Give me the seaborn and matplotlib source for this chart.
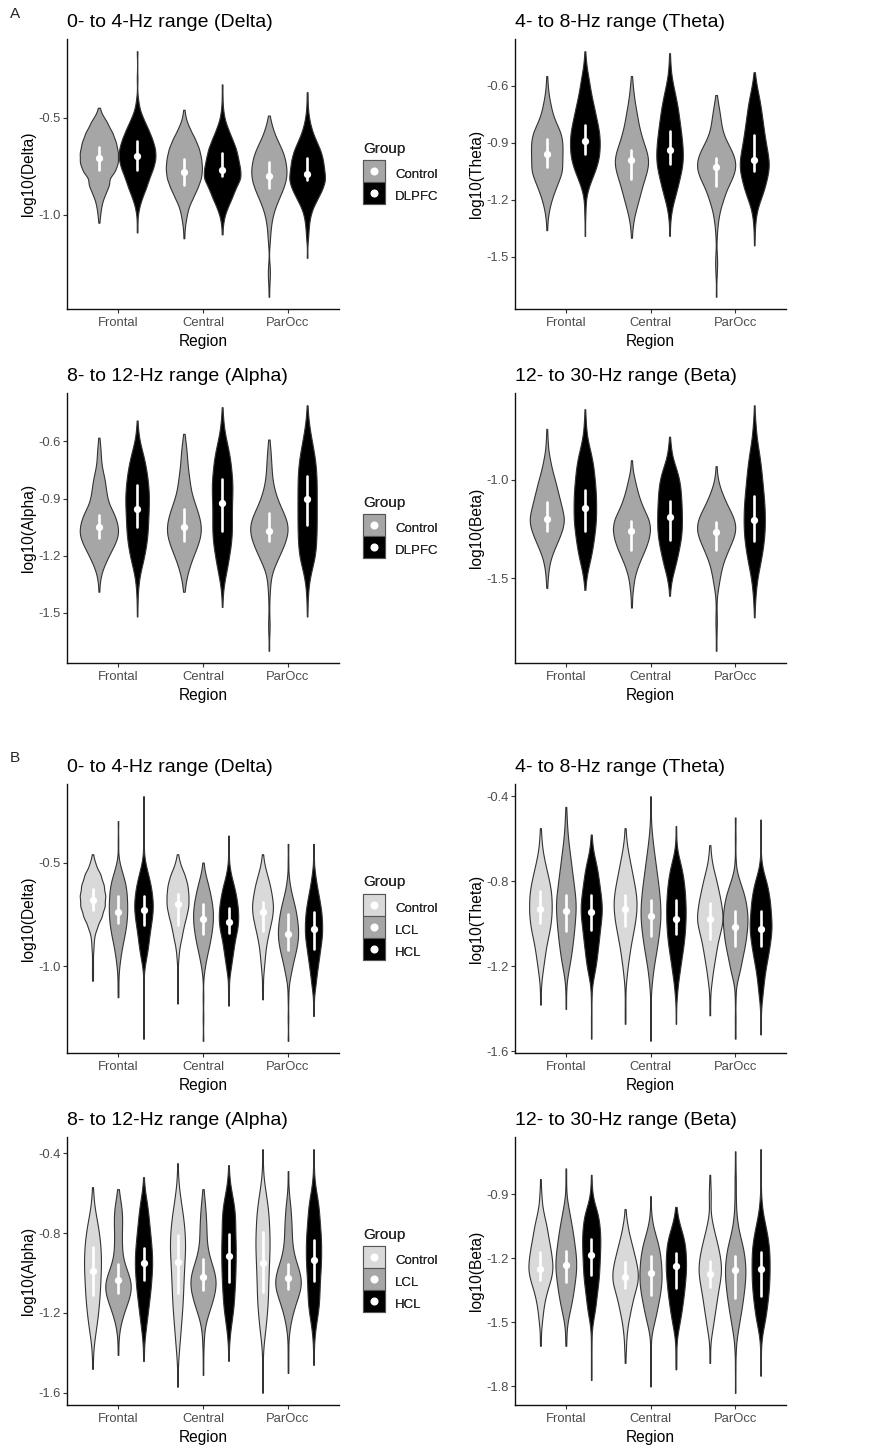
import numpy as np
import pandas as pd
import seaborn as sns
import matplotlib
matplotlib.use("Agg")
import matplotlib.pyplot as plt
from matplotlib.lines import Line2D
from matplotlib.ticker import MultipleLocator, FormatStrFormatter

regions = ["Frontal", "Central", "ParOcc"]
bands = ["Delta", "Theta", "Alpha", "Beta"]
titles = ["0- to 4-Hz range (Delta)", "4- to 8-Hz range (Theta)",
          "8- to 12-Hz range (Alpha)", "12- to 30-Hz range (Beta)"]

# Each violin is read off the picture as levels (log10 power) and relative widths
# at those levels; *_bar holds the white bar ends and the dot [low, dot, high].

# ---------------- Panel A: Control vs DLPFC ----------------
a_delta_control_y = [[-0.45, -0.49, -0.53, -0.58, -0.63, -0.68, -0.73, -0.78, -0.84, -0.89, -0.94, -0.99, -1.04],
                     [-0.46, -0.51, -0.56, -0.61, -0.66, -0.71, -0.76, -0.81, -0.86, -0.91, -0.96, -1.01, -1.06, -1.12],
                     [-0.49, -0.54, -0.59, -0.64, -0.69, -0.74, -0.79, -0.84, -0.89, -0.94, -0.99, -1.04, -1.09, -1.14, -1.27, -1.31, -1.35, -1.42]]
a_delta_control_n = [[1, 5, 17, 28, 35, 39, 39, 33, 23, 13, 6, 3, 1],
                     [1, 4, 12, 22, 30, 34, 36, 34, 27, 18, 9, 5, 2, 1],
                     [1, 6, 12, 22, 31, 35, 37, 33, 25, 16, 9, 5, 3, 2, 2, 2, 1, 1]]
a_delta_control_bar = [[-0.77, -0.71, -0.65], [-0.845, -0.78, -0.715], [-0.86, -0.80, -0.73]]

a_delta_dlpfc_y = [[-0.16, -0.30, -0.41, -0.46, -0.51, -0.56, -0.61, -0.66, -0.71, -0.76, -0.81, -0.86, -0.91, -0.96, -1.02, -1.09],
                   [-0.33, -0.40, -0.46, -0.51, -0.56, -0.61, -0.66, -0.71, -0.76, -0.81, -0.86, -0.91, -0.96, -1.01, -1.05, -1.10],
                   [-0.37, -0.42, -0.47, -0.52, -0.57, -0.62, -0.67, -0.72, -0.77, -0.82, -0.87, -0.92, -0.97, -1.02, -1.07, -1.12, -1.22]]
a_delta_dlpfc_n = [[1, 1, 2, 5, 13, 22, 30, 36, 37, 32, 24, 18, 10, 4, 1, 1],
                   [1, 1, 2, 5, 12, 20, 28, 32, 36, 38, 27, 20, 11, 4, 1, 1],
                   [1, 1, 2, 5, 10, 18, 27, 32, 34, 37, 30, 20, 10, 5, 3, 2, 1]]
a_delta_dlpfc_bar = [[-0.77, -0.70, -0.62], [-0.80, -0.77, -0.68], [-0.82, -0.79, -0.71]]

a_theta_control_y = [[-0.55, -0.60, -0.65, -0.70, -0.75, -0.80, -0.85, -0.90, -0.95, -1.00, -1.05, -1.10, -1.15, -1.20, -1.25, -1.30, -1.36],
                     [-0.55, -0.60, -0.65, -0.70, -0.75, -0.80, -0.85, -0.90, -0.95, -1.00, -1.05, -1.10, -1.15, -1.20, -1.25, -1.30, -1.35, -1.40],
                     [-0.65, -0.70, -0.75, -0.80, -0.85, -0.90, -0.95, -1.00, -1.05, -1.10, -1.15, -1.20, -1.25, -1.30, -1.35, -1.40, -1.50, -1.55, -1.60, -1.71]]
a_theta_control_n = [[1, 2, 4, 8, 12, 20, 30, 33, 33, 32, 33, 25, 17, 10, 5, 2, 1],
                     [1, 3, 5, 8, 12, 15, 20, 26, 34, 38, 34, 27, 21, 16, 10, 5, 2, 1],
                     [1, 4, 7, 9, 12, 20, 30, 36, 35, 27, 18, 13, 7, 4, 2, 1, 2, 2, 1, 1]]
a_theta_control_bar = [[-1.03, -0.96, -0.88], [-1.09, -0.99, -0.94], [-1.13, -1.03, -0.98]]

a_theta_dlpfc_y = [[-0.42, -0.47, -0.52, -0.57, -0.62, -0.67, -0.72, -0.77, -0.82, -0.87, -0.92, -0.97, -1.02, -1.07, -1.12, -1.17, -1.24, -1.30, -1.39],
                   [-0.43, -0.48, -0.53, -0.58, -0.63, -0.68, -0.73, -0.78, -0.83, -0.88, -0.93, -0.98, -1.03, -1.08, -1.13, -1.18, -1.23, -1.28, -1.33, -1.39],
                   [-0.53, -0.58, -0.63, -0.68, -0.73, -0.78, -0.83, -0.88, -0.93, -0.98, -1.03, -1.08, -1.13, -1.18, -1.23, -1.28, -1.33, -1.38, -1.44]]
a_theta_dlpfc_n = [[1, 2, 5, 9, 12, 16, 21, 25, 30, 33, 33, 32, 27, 19, 10, 4, 2, 1, 1],
                   [1, 2, 3, 7, 12, 17, 21, 24, 27, 30, 32, 33, 31, 25, 20, 14, 7, 3, 1, 1],
                   [1, 4, 8, 13, 16, 19, 22, 25, 29, 33, 35, 30, 25, 18, 9, 4, 2, 1, 1]]
a_theta_dlpfc_bar = [[-0.96, -0.89, -0.81], [-1.01, -0.94, -0.84], [-1.05, -0.99, -0.86]]

a_alpha_control_y = [[-0.58, -0.63, -0.68, -0.73, -0.78, -0.83, -0.88, -0.93, -0.98, -1.03, -1.08, -1.13, -1.18, -1.23, -1.28, -1.33, -1.39],
                     [-0.56, -0.61, -0.66, -0.71, -0.76, -0.81, -0.86, -0.91, -0.96, -1.01, -1.06, -1.11, -1.16, -1.21, -1.26, -1.31, -1.36, -1.39],
                     [-0.59, -0.64, -0.69, -0.74, -0.79, -0.84, -0.89, -0.94, -0.99, -1.04, -1.09, -1.14, -1.19, -1.24, -1.29, -1.34, -1.40, -1.48, -1.56, -1.60, -1.70]]
a_alpha_control_n = [[1, 3, 4, 5, 10, 13, 15, 19, 30, 36, 39, 33, 23, 14, 6, 2, 1],
                     [1, 4, 6, 7, 9, 12, 14, 20, 27, 33, 36, 33, 26, 18, 11, 6, 2, 1],
                     [1, 3, 4, 5, 6, 9, 14, 21, 30, 36, 35, 29, 21, 13, 5, 3, 2, 1, 2, 1, 1]]
a_alpha_control_bar = [[-1.11, -1.05, -0.985], [-1.125, -1.05, -0.955], [-1.125, -1.07, -0.975]]

a_alpha_dlpfc_y = [[-0.49, -0.54, -0.59, -0.64, -0.69, -0.74, -0.79, -0.84, -0.89, -0.94, -0.99, -1.04, -1.09, -1.14, -1.19, -1.24, -1.29, -1.34, -1.40, -1.46, -1.52],
                   [-0.42, -0.47, -0.52, -0.57, -0.62, -0.67, -0.72, -0.77, -0.82, -0.87, -0.92, -0.97, -1.02, -1.07, -1.12, -1.17, -1.22, -1.27, -1.32, -1.37, -1.42, -1.47],
                   [-0.41, -0.46, -0.51, -0.56, -0.61, -0.66, -0.71, -0.76, -0.81, -0.86, -0.91, -0.96, -1.01, -1.06, -1.11, -1.16, -1.21, -1.26, -1.31, -1.36, -1.42, -1.47, -1.52]]
a_alpha_dlpfc_n = [[1, 2, 5, 11, 18, 22, 26, 28, 30, 29, 28, 27, 26, 23, 19, 14, 7, 4, 2, 1, 1],
                   [1, 2, 4, 8, 14, 20, 23, 25, 28, 27, 26, 25, 26, 26, 25, 21, 17, 13, 7, 3, 1, 1],
                   [1, 2, 5, 9, 14, 19, 23, 25, 26, 26, 26, 26, 26, 26, 25, 24, 22, 14, 7, 4, 2, 1, 1]]
a_alpha_dlpfc_bar = [[-1.05, -0.955, -0.83], [-1.07, -0.925, -0.80], [-1.04, -0.905, -0.78]]

a_beta_control_y = [[-0.74, -0.80, -0.85, -0.90, -0.95, -1.00, -1.05, -1.10, -1.15, -1.20, -1.25, -1.30, -1.35, -1.40, -1.45, -1.50, -1.55],
                    [-0.90, -0.95, -1.00, -1.05, -1.10, -1.15, -1.20, -1.25, -1.30, -1.35, -1.40, -1.45, -1.50, -1.55, -1.60, -1.65],
                    [-0.93, -0.98, -1.03, -1.08, -1.13, -1.18, -1.23, -1.28, -1.33, -1.38, -1.43, -1.48, -1.53, -1.58, -1.65, -1.72, -1.79, -1.87]]
a_beta_control_n = [[1, 2, 3, 7, 11, 17, 22, 27, 32, 37, 33, 25, 16, 8, 4, 2, 1],
                    [1, 2, 6, 10, 15, 22, 31, 34, 31, 25, 17, 10, 5, 3, 1, 1],
                    [1, 2, 6, 13, 21, 31, 37, 35, 27, 19, 12, 8, 5, 2, 1, 2, 1, 1]]
a_beta_control_bar = [[-1.26, -1.20, -1.115], [-1.355, -1.26, -1.21], [-1.355, -1.265, -1.215]]

a_beta_dlpfc_y = [[-0.64, -0.70, -0.75, -0.80, -0.85, -0.90, -0.95, -1.00, -1.05, -1.10, -1.15, -1.20, -1.25, -1.30, -1.35, -1.40, -1.45, -1.50, -1.56],
                  [-0.78, -0.83, -0.88, -0.93, -0.98, -1.03, -1.08, -1.13, -1.18, -1.23, -1.28, -1.33, -1.38, -1.43, -1.48, -1.53, -1.59],
                  [-0.62, -0.68, -0.73, -0.78, -0.83, -0.88, -0.93, -0.98, -1.03, -1.08, -1.13, -1.18, -1.23, -1.28, -1.33, -1.38, -1.43, -1.48, -1.53, -1.58, -1.64, -1.70]]
a_beta_dlpfc_n = [[1, 2, 3, 6, 12, 17, 20, 22, 24, 25, 25, 25, 23, 20, 17, 13, 7, 3, 1],
                  [1, 3, 6, 14, 22, 26, 28, 29, 30, 30, 29, 25, 20, 15, 8, 3, 1],
                  [1, 2, 4, 6, 10, 15, 18, 21, 23, 26, 28, 29, 29, 28, 25, 21, 16, 10, 6, 4, 2, 1]]
a_beta_dlpfc_bar = [[-1.26, -1.145, -1.05], [-1.305, -1.19, -1.105], [-1.31, -1.205, -1.08]]

# ---------------- Panel B: Control vs LCL vs HCL ----------------
b_delta_control_y = [[-0.46, -0.51, -0.56, -0.61, -0.66, -0.71, -0.76, -0.81, -0.86, -0.91, -0.97, -1.02, -1.07],
                     [-0.46, -0.51, -0.56, -0.61, -0.66, -0.71, -0.76, -0.81, -0.86, -0.91, -0.96, -1.03, -1.10, -1.18],
                     [-0.46, -0.51, -0.56, -0.61, -0.66, -0.71, -0.76, -0.81, -0.86, -0.91, -0.96, -1.01, -1.06, -1.11, -1.16]]
b_delta_control_n = [[1, 6, 16, 22, 25, 24, 18, 9, 3, 2, 1, 1, 1],
                     [1, 6, 16, 22, 24, 24, 19, 13, 9, 4, 2, 1, 1, 1],
                     [1, 4, 10, 16, 20, 23, 21, 16, 11, 7, 5, 3, 1, 1, 1]]
b_delta_control_bar = [[-0.73, -0.68, -0.63], [-0.80, -0.70, -0.65], [-0.83, -0.74, -0.69]]

b_delta_lcl_y = [[-0.30, -0.40, -0.50, -0.55, -0.60, -0.65, -0.70, -0.75, -0.80, -0.85, -0.90, -0.95, -1.00, -1.05, -1.10, -1.15],
                 [-0.50, -0.55, -0.60, -0.65, -0.70, -0.75, -0.80, -0.85, -0.90, -0.95, -1.00, -1.05, -1.15, -1.25, -1.36],
                 [-0.41, -0.50, -0.58, -0.63, -0.68, -0.73, -0.78, -0.83, -0.88, -0.93, -0.98, -1.03, -1.08, -1.15, -1.25, -1.36]]
b_delta_lcl_n = [[1, 1, 3, 10, 17, 20, 21, 21, 19, 15, 10, 6, 3, 1, 1, 1],
                 [1, 4, 10, 15, 19, 21, 20, 17, 13, 8, 4, 1, 1, 1, 1],
                 [1, 1, 2, 5, 10, 15, 18, 20, 19, 15, 10, 6, 2, 1, 1, 1]]
b_delta_lcl_bar = [[-0.79, -0.74, -0.66], [-0.845, -0.77, -0.70], [-0.92, -0.845, -0.75]]

b_delta_hcl_y = [[-0.18, -0.30, -0.42, -0.50, -0.55, -0.60, -0.65, -0.70, -0.75, -0.80, -0.85, -0.90, -0.95, -1.00, -1.10, -1.22, -1.35],
                 [-0.37, -0.45, -0.52, -0.57, -0.62, -0.67, -0.72, -0.77, -0.82, -0.87, -0.92, -0.97, -1.02, -1.08, -1.13, -1.19],
                 [-0.41, -0.48, -0.55, -0.60, -0.65, -0.70, -0.75, -0.80, -0.85, -0.90, -0.95, -1.00, -1.05, -1.10, -1.17, -1.24]]
b_delta_hcl_n = [[1, 1, 1, 3, 8, 13, 16, 18, 17, 14, 11, 9, 6, 2, 1, 1, 1],
                 [1, 1, 2, 6, 12, 16, 19, 20, 18, 13, 10, 7, 4, 1, 1, 1],
                 [1, 1, 3, 6, 10, 14, 17, 18, 18, 15, 12, 9, 6, 4, 1, 1]]
b_delta_hcl_bar = [[-0.80, -0.73, -0.66], [-0.84, -0.785, -0.72], [-0.915, -0.82, -0.74]]

b_theta_control_y = [[-0.55, -0.60, -0.65, -0.70, -0.75, -0.80, -0.85, -0.90, -0.95, -1.00, -1.05, -1.10, -1.15, -1.20, -1.25, -1.31, -1.38],
                     [-0.55, -0.60, -0.65, -0.70, -0.75, -0.80, -0.85, -0.90, -0.95, -1.00, -1.05, -1.10, -1.15, -1.20, -1.25, -1.32, -1.40, -1.47],
                     [-0.63, -0.68, -0.73, -0.78, -0.83, -0.88, -0.93, -0.98, -1.03, -1.08, -1.13, -1.18, -1.23, -1.28, -1.35, -1.43]]
b_theta_control_n = [[1, 2, 4, 8, 13, 18, 22, 23, 23, 21, 17, 12, 9, 6, 3, 1, 1],
                     [1, 2, 5, 9, 13, 17, 21, 23, 22, 19, 15, 11, 8, 5, 3, 1, 1, 1],
                     [1, 2, 5, 10, 14, 18, 21, 23, 19, 14, 11, 8, 5, 3, 1, 1]]
b_theta_control_bar = [[-0.995, -0.93, -0.845], [-1.01, -0.93, -0.865], [-1.07, -0.975, -0.90]]

b_theta_lcl_y = [[-0.45, -0.50, -0.55, -0.60, -0.65, -0.70, -0.75, -0.80, -0.85, -0.90, -0.95, -1.00, -1.05, -1.10, -1.15, -1.20, -1.25, -1.32, -1.40],
                 [-0.40, -0.48, -0.55, -0.60, -0.65, -0.70, -0.75, -0.80, -0.85, -0.90, -0.95, -1.00, -1.05, -1.10, -1.15, -1.20, -1.25, -1.30, -1.40, -1.55],
                 [-0.50, -0.60, -0.70, -0.77, -0.82, -0.87, -0.92, -0.97, -1.02, -1.07, -1.12, -1.17, -1.22, -1.27, -1.35, -1.45, -1.54]]
b_theta_lcl_n = [[1, 2, 3, 5, 8, 11, 14, 17, 20, 23, 22, 20, 18, 15, 12, 8, 3, 1, 1],
                 [1, 1, 2, 4, 7, 10, 13, 16, 19, 21, 22, 21, 18, 15, 11, 7, 4, 2, 1, 1],
                 [1, 1, 1, 4, 10, 16, 19, 21, 20, 18, 15, 11, 8, 3, 1, 1, 1]]
b_theta_lcl_bar = [[-1.035, -0.94, -0.865], [-1.055, -0.965, -0.89], [-1.105, -1.015, -0.94]]

b_theta_hcl_y = [[-0.58, -0.63, -0.68, -0.73, -0.78, -0.83, -0.88, -0.93, -0.98, -1.03, -1.08, -1.13, -1.18, -1.23, -1.28, -1.35, -1.45, -1.54],
                 [-0.54, -0.61, -0.67, -0.72, -0.77, -0.82, -0.87, -0.92, -0.97, -1.02, -1.07, -1.12, -1.17, -1.22, -1.27, -1.32, -1.38, -1.47],
                 [-0.51, -0.60, -0.70, -0.75, -0.80, -0.85, -0.90, -0.95, -1.00, -1.05, -1.10, -1.15, -1.20, -1.25, -1.30, -1.35, -1.42, -1.52]]
b_theta_hcl_n = [[1, 2, 6, 12, 15, 18, 21, 23, 21, 18, 16, 13, 11, 7, 2, 1, 1, 1],
                 [1, 1, 4, 11, 16, 19, 21, 22, 22, 21, 19, 16, 12, 9, 5, 3, 1, 1],
                 [1, 1, 1, 4, 11, 15, 18, 19, 21, 20, 17, 14, 10, 7, 5, 3, 1, 1]]
b_theta_hcl_bar = [[-1.03, -0.945, -0.865], [-1.05, -0.975, -0.89], [-1.105, -1.025, -0.94]]

b_alpha_control_y = [[-0.57, -0.62, -0.67, -0.72, -0.77, -0.82, -0.87, -0.92, -0.97, -1.02, -1.07, -1.12, -1.17, -1.22, -1.27, -1.32, -1.37, -1.42, -1.48],
                     [-0.45, -0.50, -0.56, -0.61, -0.66, -0.71, -0.76, -0.81, -0.86, -0.91, -0.96, -1.01, -1.06, -1.11, -1.16, -1.21, -1.26, -1.31, -1.36, -1.41, -1.48, -1.57],
                     [-0.38, -0.45, -0.50, -0.55, -0.60, -0.65, -0.70, -0.75, -0.80, -0.85, -0.90, -0.95, -1.00, -1.05, -1.10, -1.15, -1.20, -1.25, -1.30, -1.35, -1.42, -1.50, -1.60]]
b_alpha_control_n = [[1, 2, 4, 8, 12, 15, 17, 18, 18, 17, 16, 15, 13, 11, 8, 5, 2, 1, 1],
                     [1, 1, 3, 6, 10, 14, 17, 19, 20, 19, 17, 16, 15, 14, 13, 11, 9, 7, 5, 3, 1, 1],
                     [1, 1, 1, 4, 8, 12, 15, 16, 17, 18, 17, 16, 15, 14, 14, 13, 11, 9, 6, 3, 1, 1, 1]]
b_alpha_control_bar = [[-1.11, -0.99, -0.87], [-1.10, -0.945, -0.81], [-1.095, -0.95, -0.795]]

b_alpha_lcl_y = [[-0.58, -0.63, -0.68, -0.73, -0.78, -0.83, -0.88, -0.93, -0.98, -1.03, -1.08, -1.13, -1.18, -1.23, -1.28, -1.34, -1.41],
                 [-0.58, -0.63, -0.68, -0.73, -0.78, -0.83, -0.88, -0.93, -0.98, -1.03, -1.08, -1.13, -1.18, -1.23, -1.28, -1.34, -1.42, -1.51],
                 [-0.49, -0.57, -0.63, -0.68, -0.73, -0.78, -0.83, -0.88, -0.93, -0.98, -1.03, -1.08, -1.13, -1.18, -1.23, -1.28, -1.35, -1.42, -1.50]]
b_alpha_lcl_n = [[1, 4, 7, 8, 7, 7, 7, 9, 15, 23, 25, 20, 13, 7, 3, 1, 1],
                 [1, 3, 5, 6, 7, 7, 9, 14, 21, 26, 25, 20, 14, 7, 3, 2, 1, 1],
                 [1, 1, 3, 5, 6, 7, 7, 9, 13, 20, 25, 24, 17, 11, 6, 3, 1, 1, 1]]
b_alpha_lcl_bar = [[-1.10, -1.035, -0.955], [-1.085, -1.02, -0.93], [-1.08, -1.025, -0.955]]

b_alpha_hcl_y = [[-0.52, -0.58, -0.63, -0.68, -0.73, -0.78, -0.83, -0.88, -0.93, -0.98, -1.03, -1.08, -1.13, -1.18, -1.23, -1.28, -1.33, -1.39, -1.44],
                 [-0.46, -0.52, -0.57, -0.62, -0.67, -0.72, -0.77, -0.82, -0.87, -0.92, -0.97, -1.02, -1.07, -1.12, -1.17, -1.22, -1.27, -1.32, -1.38, -1.44],
                 [-0.38, -0.45, -0.52, -0.58, -0.63, -0.68, -0.73, -0.78, -0.83, -0.88, -0.93, -0.98, -1.03, -1.08, -1.13, -1.18, -1.23, -1.28, -1.33, -1.40, -1.46]]
b_alpha_hcl_n = [[1, 2, 6, 9, 11, 13, 15, 17, 18, 18, 16, 15, 12, 10, 7, 5, 2, 1, 1],
                 [1, 2, 5, 11, 16, 18, 18, 18, 20, 19, 19, 18, 17, 15, 14, 10, 6, 3, 1, 1],
                 [1, 1, 2, 5, 10, 13, 14, 16, 18, 18, 18, 17, 15, 14, 14, 12, 8, 4, 2, 1, 1]]
b_alpha_hcl_bar = [[-1.035, -0.95, -0.875], [-1.045, -0.915, -0.805], [-1.04, -0.935, -0.835]]

b_beta_control_y = [[-0.83, -0.90, -0.95, -1.00, -1.05, -1.10, -1.15, -1.20, -1.25, -1.30, -1.35, -1.40, -1.45, -1.50, -1.56, -1.61],
                    [-0.97, -1.02, -1.06, -1.11, -1.16, -1.21, -1.26, -1.31, -1.36, -1.41, -1.46, -1.51, -1.56, -1.62, -1.69],
                    [-0.81, -0.88, -0.93, -1.00, -1.05, -1.10, -1.15, -1.20, -1.25, -1.30, -1.35, -1.40, -1.45, -1.50, -1.55, -1.62, -1.69]]
b_beta_control_n = [[1, 2, 3, 7, 12, 15, 19, 22, 24, 20, 13, 8, 5, 3, 1, 1],
                    [1, 2, 5, 10, 15, 20, 24, 24, 18, 13, 9, 5, 3, 2, 1],
                    [1, 2, 2, 2, 6, 11, 16, 20, 22, 20, 16, 13, 10, 7, 4, 1, 1]]
b_beta_control_bar = [[-1.30, -1.25, -1.17], [-1.34, -1.29, -1.22], [-1.335, -1.275, -1.215]]

b_beta_lcl_y = [[-0.78, -0.85, -0.92, -0.97, -1.02, -1.07, -1.12, -1.17, -1.22, -1.27, -1.32, -1.37, -1.42, -1.47, -1.52, -1.57, -1.61],
                [-0.91, -0.98, -1.03, -1.08, -1.13, -1.18, -1.23, -1.28, -1.33, -1.38, -1.43, -1.48, -1.53, -1.60, -1.70, -1.80],
                [-0.70, -0.78, -0.85, -0.93, -1.00, -1.05, -1.10, -1.15, -1.20, -1.25, -1.30, -1.35, -1.40, -1.45, -1.50, -1.55, -1.62, -1.72, -1.83]]
b_beta_lcl_n = [[1, 1, 2, 6, 10, 14, 17, 20, 22, 21, 18, 15, 11, 6, 2, 1, 1],
                [1, 1, 3, 8, 14, 18, 20, 21, 20, 17, 13, 9, 4, 1, 1, 1],
                [1, 1, 2, 2, 3, 5, 10, 16, 19, 21, 20, 18, 15, 12, 8, 5, 2, 1, 1]]
b_beta_lcl_bar = [[-1.31, -1.23, -1.165], [-1.37, -1.27, -1.19], [-1.385, -1.255, -1.19]]

b_beta_hcl_y = [[-0.81, -0.88, -0.94, -0.99, -1.04, -1.09, -1.14, -1.19, -1.24, -1.29, -1.34, -1.39, -1.44, -1.49, -1.55, -1.62, -1.70, -1.77],
                [-0.96, -1.01, -1.06, -1.11, -1.16, -1.21, -1.26, -1.31, -1.36, -1.41, -1.46, -1.51, -1.56, -1.62, -1.67, -1.72],
                [-0.69, -0.78, -0.86, -0.93, -0.98, -1.03, -1.08, -1.13, -1.18, -1.23, -1.28, -1.33, -1.38, -1.43, -1.48, -1.53, -1.59, -1.67, -1.75]]
b_beta_hcl_n = [[1, 2, 6, 15, 18, 20, 20, 19, 18, 17, 14, 11, 9, 4, 1, 1, 1, 1],
                [1, 4, 10, 17, 20, 21, 21, 19, 17, 14, 11, 7, 3, 1, 1, 1],
                [1, 1, 1, 2, 4, 9, 14, 18, 20, 20, 20, 19, 17, 14, 11, 6, 2, 1, 1]]
b_beta_hcl_bar = [[-1.28, -1.185, -1.11], [-1.34, -1.235, -1.175], [-1.375, -1.25, -1.17]]

# ---------------- styling ----------------
sns.set_theme(style="ticks")
plt.rcParams["font.family"] = ["Liberation Sans", "DejaVu Sans"]
plt.rcParams["axes.unicode_minus"] = False

colors_a = {"Control": "#a6a6a6", "DLPFC": "#000000"}
colors_b = {"Control": "#d9d9d9", "LCL": "#a6a6a6", "HCL": "#000000"}

W, H = 890, 1448
# panel boxes in pixels: left, top, right, bottom
panels = [
    ("Delta", (67, 39, 339, 309), 0.5, colors_a,
     [(a_delta_control_y, a_delta_control_n, a_delta_control_bar), (a_delta_dlpfc_y, a_delta_dlpfc_n, a_delta_dlpfc_bar)]),
    ("Theta", (515, 39, 786, 309), 0.3, colors_a,
     [(a_theta_control_y, a_theta_control_n, a_theta_control_bar), (a_theta_dlpfc_y, a_theta_dlpfc_n, a_theta_dlpfc_bar)]),
    ("Alpha", (67, 393, 339, 663), 0.3, colors_a,
     [(a_alpha_control_y, a_alpha_control_n, a_alpha_control_bar), (a_alpha_dlpfc_y, a_alpha_dlpfc_n, a_alpha_dlpfc_bar)]),
    ("Beta", (515, 393, 786, 663), 0.5, colors_a,
     [(a_beta_control_y, a_beta_control_n, a_beta_control_bar), (a_beta_dlpfc_y, a_beta_dlpfc_n, a_beta_dlpfc_bar)]),
    ("Delta", (67, 784, 339, 1053), 0.5, colors_b,
     [(b_delta_control_y, b_delta_control_n, b_delta_control_bar), (b_delta_lcl_y, b_delta_lcl_n, b_delta_lcl_bar),
      (b_delta_hcl_y, b_delta_hcl_n, b_delta_hcl_bar)]),
    ("Theta", (515, 784, 786, 1053), 0.4, colors_b,
     [(b_theta_control_y, b_theta_control_n, b_theta_control_bar), (b_theta_lcl_y, b_theta_lcl_n, b_theta_lcl_bar),
      (b_theta_hcl_y, b_theta_hcl_n, b_theta_hcl_bar)]),
    ("Alpha", (67, 1137, 339, 1405), 0.4, colors_b,
     [(b_alpha_control_y, b_alpha_control_n, b_alpha_control_bar), (b_alpha_lcl_y, b_alpha_lcl_n, b_alpha_lcl_bar),
      (b_alpha_hcl_y, b_alpha_hcl_n, b_alpha_hcl_bar)]),
    ("Beta", (515, 1137, 786, 1405), 0.3, colors_b,
     [(b_beta_control_y, b_beta_control_n, b_beta_control_bar), (b_beta_lcl_y, b_beta_lcl_n, b_beta_lcl_bar),
      (b_beta_hcl_y, b_beta_hcl_n, b_beta_hcl_bar)]),
]


def build(groups, parts):
    dens, bars = [], []
    for g, (ys, ns, bs) in zip(groups, parts):
        for region, y, n, b in zip(regions, ys, ns, bs):
            dens.append(pd.DataFrame({"Region": region, "Group": g, "value": np.repeat(y, n)}))
            bars.append(pd.DataFrame({"Region": region, "Group": g, "value": b}))
    return pd.concat(dens, ignore_index=True), pd.concat(bars, ignore_index=True)


fig = plt.figure(figsize=(W / 100, H / 100), dpi=100)

for band, (l, t, r, b), step, palette, parts in panels:
    ax = fig.add_axes([l / W, 1 - b / H, (r - l) / W, (b - t) / H])
    groups = list(palette)
    k = len(groups)
    dens, bars = build(groups, parts)

    sns.violinplot(data=dens, x="Region", y="value", hue="Group", order=regions, hue_order=groups,
                   palette=palette, saturation=1, width=0.9, gap=0, cut=0, bw_method=0.24,
                   gridsize=200, density_norm="area", common_norm=True, inner=None, linewidth=0.8,
                   linecolor="#333333", legend=False, ax=ax)
    sns.pointplot(data=bars, x="Region", y="value", hue="Group", order=regions, hue_order=groups,
                  palette={g: "white" for g in groups}, estimator="median", errorbar=("pi", 100),
                  dodge=0.9 * (k - 1) / k, linestyle="none", marker="o", linewidth=1.9,
                  markersize=3.8, err_kws={"linewidth": 1.9}, legend=False, ax=ax)

    lo = min(dens["value"].min(), bars["value"].min())
    hi = max(dens["value"].max(), bars["value"].max())
    pad = 0.05 * (hi - lo)
    ax.set_ylim(lo - pad, hi + pad)
    ax.set_xlim(-0.6, 2.6)
    ax.yaxis.set_major_locator(MultipleLocator(step))
    ax.yaxis.set_major_formatter(FormatStrFormatter("%.1f"))

    for side in ["top", "right"]:
        ax.spines[side].set_visible(False)
    for side in ["left", "bottom"]:
        ax.spines[side].set_linewidth(1.0)
        ax.spines[side].set_color("#111111")
    ax.tick_params(axis="both", length=2.9, width=0.8, color="#333333", labelsize=9.4,
                   labelcolor="#4d4d4d")
    ax.tick_params(axis="x", pad=2.6)
    ax.tick_params(axis="y", pad=1.5)
    ax.set_xlabel("Region", fontsize=11.2, labelpad=4, color="black")
    ax.set_ylabel(f"log10({band})", fontsize=11.2, labelpad=1.5, color="black")
    ax.set_title(titles[bands.index(band)], loc="left", fontsize=14, pad=8.6, color="black")

    handles = [(Line2D([], [], linestyle="none", marker="s", markersize=15.3, markerfacecolor=c,
                       markeredgecolor="#555555", markeredgewidth=0.8),
                Line2D([], [], linestyle="none", marker="o", markersize=4.8, color="white"))
               for c in palette.values()]
    leg = ax.legend(handles, groups, title="Group", loc="center left",
                    bbox_to_anchor=((363 - l) / (r - l), 0.5),
                    frameon=False, fontsize=9.5, title_fontsize=11, handlelength=1.74, handleheight=1.95,
                    handletextpad=0.7, labelspacing=0.15, borderpad=0, borderaxespad=0, alignment="left")
    leg._legend_box.sep = 6

fig.text(10 / W, 1 - 14 / H, "A", fontsize=11, va="center", ha="left")
fig.text(10 / W, 1 - 758 / H, "B", fontsize=11, va="center", ha="left")

fig.savefig("out.png", dpi=100, facecolor="white")
